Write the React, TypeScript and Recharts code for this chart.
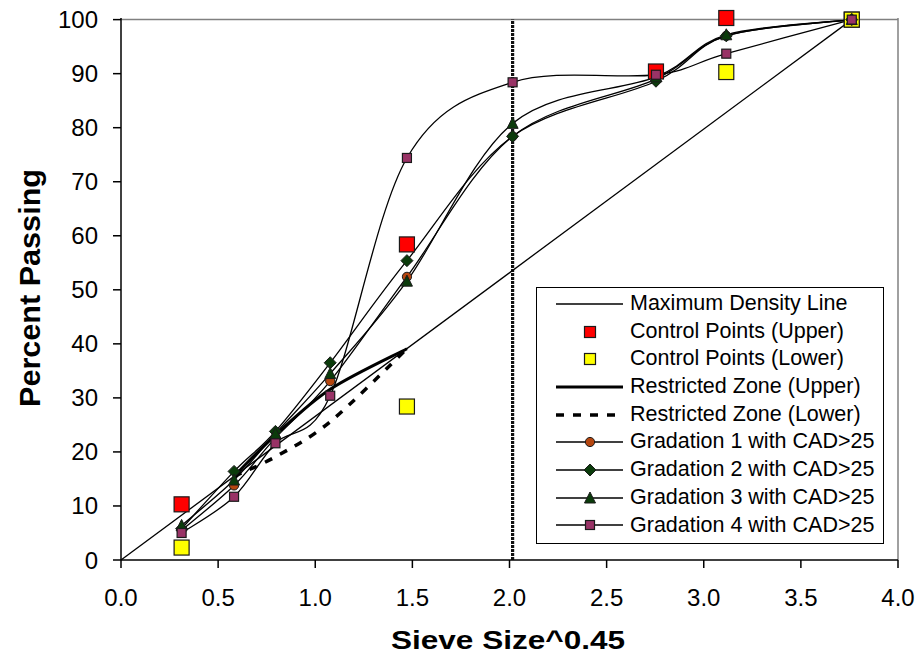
import React from "react";
import { ComposedChart, Line, XAxis, YAxis, ReferenceLine, Legend } from "recharts";

// ---------- data ----------
const sieveX = [0.312, 0.582, 0.795, 1.077, 1.472, 2.016, 2.754, 3.116, 3.762];
const grad1 = [5.5, 13.8, 22.6, 33.1, 52.4, 78.4, 89.0, 97.0, 100];
const grad2 = [5.8, 16.4, 23.8, 36.5, 55.4, 78.4, 88.6, 97.0, 100];
const grad3 = [6.4, 14.8, 23.4, 34.5, 51.6, 80.8, 89.4, 97.2, 100];
const grad4 = [5.0, 11.7, 21.6, 30.4, 74.4, 88.4, 89.8, 93.7, 100];

const maxDensityX = [0, 3.762];
const maxDensityY = [0, 100];

const ctrlUpperX = [0.312, 1.472, 2.754, 3.116, 3.762];
const ctrlUpperY = [10.3, 58.4, 90.4, 100.3, 100];
const ctrlLowerX = [0.312, 1.472, 3.116, 3.762];
const ctrlLowerY = [2.3, 28.4, 90.3, 100];

const rzX = [0.582, 0.795, 1.077, 1.472];
const rzUpperY = [15.5, 23.1, 31.6, 39.1];
const rzLowerY = [15.5, 19.1, 25.6, 39.1];

const controlSieveX = [2.016, 2.016];
const controlSieveY = [0, 100];

const xTicks = [0, 0.5, 1, 1.5, 2, 2.5, 3, 3.5, 4];
const yTicks = [0, 10, 20, 30, 40, 50, 60, 70, 80, 90, 100];

const seriesNames = [
  "Maximum Density Line",
  "Control Points (Upper)",
  "Control Points (Lower)",
  "Restricted Zone (Upper)",
  "Restricted Zone (Lower)",
  "Gradation 1 with CAD>25",
  "Gradation 2 with CAD>25",
  "Gradation 3 with CAD>25",
  "Gradation 4 with CAD>25",
];
const xTitle = "Sieve Size^0.45";
const yTitle = "Percent Passing";

const toPts = (xs: number[], ys: number[]) => xs.map((x, i) => ({ x, y: ys[i] }));

// ---------- styles ----------
const FONT = "'Liberation Sans', Arial, sans-serif";
const C_RED = "#FF0000";
const C_YEL = "#FFFF00";
const C_G1 = "#B5460F";
const C_G2 = "#0B3B0B";
const C_G3 = "#0B3B0B";
const C_G4 = "#993366";
const OUT = "#1a1a1a";

// Excel-like smoothing (Catmull-Rom Bezier)
function excelSmooth(context: any) {
  let xs: number[] = [];
  let ys: number[] = [];
  return {
    areaStart() {},
    areaEnd() {},
    lineStart() {
      xs = [];
      ys = [];
    },
    point(x: number, y: number) {
      xs.push(+x);
      ys.push(+y);
    },
    lineEnd() {
      const n = xs.length;
      if (n === 0) return;
      context.moveTo(xs[0], ys[0]);
      if (n === 1) return;
      for (let i = 0; i < n - 1; i++) {
        const i0 = Math.max(i - 1, 0);
        const i3 = Math.min(i + 2, n - 1);
        const c1x = xs[i] + (xs[i + 1] - xs[i0]) / 6;
        const c1y = ys[i] + (ys[i + 1] - ys[i0]) / 6;
        const c2x = xs[i + 1] - (xs[i3] - xs[i]) / 6;
        const c2y = ys[i + 1] - (ys[i3] - ys[i]) / 6;
        context.bezierCurveTo(c1x, c1y, c2x, c2y, xs[i + 1], ys[i + 1]);
      }
    },
  };
}

// ---------- markers ----------
const square = (cx: number, cy: number, s: number, fill: string, key?: string) => (
  <rect key={key} x={cx - s / 2} y={cy - s / 2} width={s} height={s} fill={fill} stroke={OUT} strokeWidth={1.2} />
);
const circle = (cx: number, cy: number, key?: string) => (
  <circle key={key} cx={cx} cy={cy} r={4.6} fill={C_G1} stroke={OUT} strokeWidth={1} />
);
const diamond = (cx: number, cy: number, key?: string) => (
  <polygon
    key={key}
    points={`${cx},${cy - 6} ${cx + 6},${cy} ${cx},${cy + 6} ${cx - 6},${cy}`}
    fill={C_G2}
    stroke={OUT}
    strokeWidth={1}
  />
);
const triangle = (cx: number, cy: number, key?: string) => (
  <polygon
    key={key}
    points={`${cx},${cy - 6} ${cx + 5.5},${cy + 5} ${cx - 5.5},${cy + 5}`}
    fill={C_G3}
    stroke={OUT}
    strokeWidth={1}
  />
);

const mkDot = (kind: string) => (p: any) => {
  const k = `${kind}-${p.index}`;
  if (p.cx == null || p.cy == null) return <g key={k} />;
  switch (kind) {
    case "up":
      return square(p.cx, p.cy, 15, C_RED, k);
    case "lo":
      return square(p.cx, p.cy, 15, C_YEL, k);
    case "g1":
      return circle(p.cx, p.cy, k);
    case "g2":
      return diamond(p.cx, p.cy, k);
    case "g3":
      return triangle(p.cx, p.cy, k);
    default:
      return square(p.cx, p.cy, 9, C_G4, k);
  }
};

// ---------- legend ----------
const legendSymbol = (i: number) => {
  const y = 14;
  const line = (w: number, dash?: string) => (
    <line x1={19} x2={86} y1={y} y2={y} stroke="#000" strokeWidth={w} strokeDasharray={dash} />
  );
  switch (i) {
    case 0:
      return line(1.3);
    case 1:
      return square(53, y, 11, C_RED);
    case 2:
      return square(53, y, 11, C_YEL);
    case 3:
      return line(3);
    case 4:
      return line(3.5, "8 9");
    case 5:
      return (
        <g>
          {line(1.3)}
          {circle(53, y)}
        </g>
      );
    case 6:
      return (
        <g>
          {line(1.3)}
          {diamond(53, y)}
        </g>
      );
    case 7:
      return (
        <g>
          {line(1.3)}
          {triangle(53, y)}
        </g>
      );
    default:
      return (
        <g>
          {line(1.3)}
          {square(53, y, 9, C_G4)}
        </g>
      );
  }
};

const renderLegend = () => (
  <div
    style={{
      boxSizing: "border-box",
      width: 348,
      height: 257,
      border: "1.3px solid #000",
      background: "#fff",
      paddingTop: 2,
      fontFamily: FONT,
      fontSize: 21.5,
      color: "#000",
    }}
  >
    {seriesNames.map((name, i) => (
      <div key={name} style={{ display: "flex", alignItems: "center", height: 27.7, whiteSpace: "nowrap" }}>
        <svg width={93} height={28} style={{ flex: "none" }}>
          {legendSymbol(i)}
        </svg>
        <span style={{ lineHeight: "27.7px" }}>{name}</span>
      </div>
    ))}
  </div>
);

const renderXTitle = () => (
  <text
    x={508}
    y={649}
    textAnchor="middle"
    fontFamily={FONT}
    fontWeight="bold"
    fontSize={26}
    fill="#000"
    textLength={234}
    lengthAdjust="spacingAndGlyphs"
  >
    {xTitle}
  </text>
);

const renderYTitle = () => (
  <text
    transform="translate(39.5,288) rotate(-90)"
    textAnchor="middle"
    fontFamily={FONT}
    fontWeight="bold"
    fontSize={29}
    fill="#000"
    textLength={238}
    lengthAdjust="spacingAndGlyphs"
  >
    {yTitle}
  </text>
);

export default function App() {
  return (
    <div style={{ position: "absolute", left: 0, top: 0, width: 917, height: 658, background: "#fff" }}>
      <ComposedChart width={917} height={658} margin={{ top: 18, right: 19, left: 0, bottom: 38 }}>
        <XAxis
          dataKey="x"
          type="number"
          domain={[0, 4]}
          ticks={xTicks}
          tickFormatter={(v: number) => v.toFixed(1)}
          height={60}
          tickSize={8}
          tickMargin={21}
          axisLine={{ stroke: "#000", strokeWidth: 1.5 }}
          tickLine={{ stroke: "#000", strokeWidth: 1.5 }}
          tick={{ fontSize: 24, fill: "#000", fontFamily: FONT }}
          allowDuplicatedCategory={false}
          label={renderXTitle}
        />
        <YAxis
          type="number"
          domain={[0, 100]}
          ticks={yTicks}
          width={121}
          tickSize={8}
          tickMargin={15}
          axisLine={{ stroke: "#000", strokeWidth: 1.5 }}
          tickLine={{ stroke: "#000", strokeWidth: 1.5 }}
          tick={{ fontSize: 24, fill: "#000", fontFamily: FONT }}
          label={renderYTitle}
        />
        <ReferenceLine y={100} stroke="#808080" strokeWidth={1.5} />
        <ReferenceLine x={4} stroke="#808080" strokeWidth={1.5} />
        <Line
          data={toPts(controlSieveX, controlSieveY)}
          dataKey="y"
          type="linear"
          stroke="#111"
          strokeWidth={3.2}
          strokeDasharray="3 1"
          dot={false}
          legendType="none"
          isAnimationActive={false}
        />
        <Line
          data={toPts(maxDensityX, maxDensityY)}
          dataKey="y"
          name={seriesNames[0]}
          type="linear"
          stroke="#000"
          strokeWidth={1.3}
          dot={false}
          isAnimationActive={false}
        />
        <Line
          data={toPts(ctrlUpperX, ctrlUpperY)}
          dataKey="y"
          name={seriesNames[1]}
          stroke="none"
          dot={mkDot("up")}
          isAnimationActive={false}
        />
        <Line
          data={toPts(ctrlLowerX, ctrlLowerY)}
          dataKey="y"
          name={seriesNames[2]}
          stroke="none"
          dot={mkDot("lo")}
          isAnimationActive={false}
        />
        <Line
          data={toPts(rzX, rzUpperY)}
          dataKey="y"
          name={seriesNames[3]}
          type={excelSmooth as any}
          stroke="#000"
          strokeWidth={3}
          dot={false}
          isAnimationActive={false}
        />
        <Line
          data={toPts(rzX, rzLowerY)}
          dataKey="y"
          name={seriesNames[4]}
          type={excelSmooth as any}
          stroke="#000"
          strokeWidth={3.5}
          strokeDasharray="8 9"
          dot={false}
          isAnimationActive={false}
        />
        <Line
          data={toPts(sieveX, grad1)}
          dataKey="y"
          name={seriesNames[5]}
          type={excelSmooth as any}
          stroke="#000"
          strokeWidth={1.3}
          dot={mkDot("g1")}
          isAnimationActive={false}
        />
        <Line
          data={toPts(sieveX, grad2)}
          dataKey="y"
          name={seriesNames[6]}
          type={excelSmooth as any}
          stroke="#000"
          strokeWidth={1.3}
          dot={mkDot("g2")}
          isAnimationActive={false}
        />
        <Line
          data={toPts(sieveX, grad3)}
          dataKey="y"
          name={seriesNames[7]}
          type={excelSmooth as any}
          stroke="#000"
          strokeWidth={1.3}
          dot={mkDot("g3")}
          isAnimationActive={false}
        />
        <Line
          data={toPts(sieveX, grad4)}
          dataKey="y"
          name={seriesNames[8]}
          type={excelSmooth as any}
          stroke="#000"
          strokeWidth={1.3}
          dot={mkDot("g4")}
          isAnimationActive={false}
        />
        <Legend
          layout="vertical"
          align="center"
          verticalAlign="middle"
          content={renderLegend}
          wrapperStyle={{ left: 536, top: 287, width: 348, height: 257 }}
        />
      </ComposedChart>
    </div>
  );
}
